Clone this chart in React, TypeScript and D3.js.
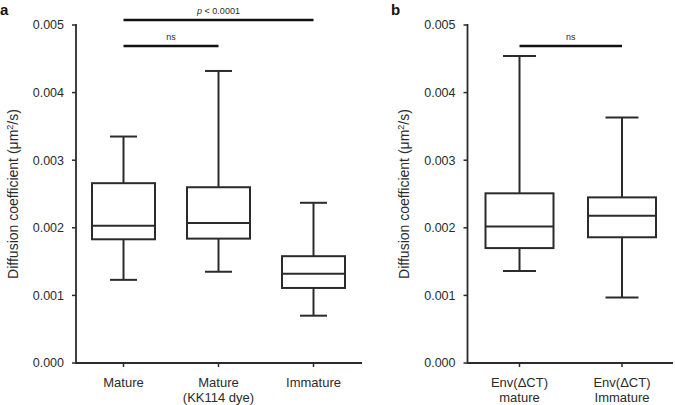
import React from "react";
import * as d3 from "d3";

const catsA = [["Mature"], ["Mature", "(KK114 dye)"], ["Immature"]];
const minA = [0.00123, 0.00135, 0.00070];
const q1A = [0.00183, 0.00184, 0.00111];
const medA = [0.00203, 0.00207, 0.00132];
const q3A = [0.00266, 0.00260, 0.00158];
const maxA = [0.00335, 0.00432, 0.00237];

const catsB = [["Env(\u0394CT)", "mature"], ["Env(\u0394CT)", "Immature"]];
const minB = [0.00136, 0.00097];
const q1B = [0.00170, 0.00186];
const medB = [0.00202, 0.00218];
const q3B = [0.00251, 0.00245];
const maxB = [0.00454, 0.00363];

const yTicks = [0, 0.001, 0.002, 0.003, 0.004, 0.005];
const yTickLabels = ["0.000", "0.001", "0.002", "0.003", "0.004", "0.005"];

const INK = "#2b2b2b";
const FONT = "Liberation Sans, Arial, Helvetica, sans-serif";

type PanelProps = {
  letter: string;
  letterX: number;
  axisX: number;
  axisEnd: number;
  titleX: number;
  range: [number, number];
  cats: string[][];
  mins: number[];
  q1s: number[];
  meds: number[];
  q3s: number[];
  maxs: number[];
  boxW: number;
  capW: number;
  sig: { a: number; b: number; y: number; label: string; italic?: boolean }[];
};

const y = d3.scaleLinear().domain([0, 0.005]).range([363, 25]);

function Panel(p: PanelProps) {
  const x = d3
    .scalePoint<number>()
    .domain(p.cats.map((_, i) => i))
    .range(p.range);
  const y0 = y(0);
  return (
    <g fontFamily={FONT} fill={INK}>
      <text x={p.letterX} y={15} fontSize={15} fontWeight="bold" fill="#111">
        {p.letter}
      </text>
      <text
        transform={`translate(${p.titleX},${(y(0) + y(0.005)) / 2}) rotate(-90)`}
        textAnchor="middle"
        fontSize={14}
      >
        Diffusion coefficient (μm
        <tspan dy={-5} fontSize={9}>2</tspan>
        <tspan dy={5}>/s)</tspan>
      </text>
      {/* axes */}
      <line x1={p.axisX} x2={p.axisX} y1={y(0.005) - 1} y2={y0 + 1} stroke={INK} strokeWidth={1.8} />
      <line x1={p.axisX} x2={p.axisEnd} y1={y0} y2={y0} stroke={INK} strokeWidth={1.8} />
      {yTicks.map((t, i) => (
        <g key={i}>
          <line x1={p.axisX - 4} x2={p.axisX} y1={y(t)} y2={y(t)} stroke={INK} strokeWidth={1.5} />
          <text x={p.axisX - 12} y={y(t)} dy="0.35em" textAnchor="end" fontSize={12.5}>
            {yTickLabels[i]}
          </text>
        </g>
      ))}
      {p.cats.map((c, i) => (
        <g key={i}>
          <line x1={x(i)} x2={x(i)} y1={y0} y2={y0 + 4} stroke={INK} strokeWidth={1.5} />
          {c.map((l, j) => (
            <text key={j} x={x(i)} y={386.5 + j * 15} textAnchor="middle" fontSize={13}>
              {l}
            </text>
          ))}
        </g>
      ))}
      {/* boxes */}
      {p.cats.map((_, i) => {
        const cx = x(i)!;
        return (
          <g key={i} stroke={INK} strokeWidth={2} fill="none">
            <line x1={cx} x2={cx} y1={y(p.maxs[i])} y2={y(p.q3s[i])} />
            <line x1={cx} x2={cx} y1={y(p.q1s[i])} y2={y(p.mins[i])} />
            <line x1={cx - p.capW / 2} x2={cx + p.capW / 2} y1={y(p.maxs[i])} y2={y(p.maxs[i])} />
            <line x1={cx - p.capW / 2} x2={cx + p.capW / 2} y1={y(p.mins[i])} y2={y(p.mins[i])} />
            <rect
              x={cx - p.boxW / 2}
              y={y(p.q3s[i])}
              width={p.boxW}
              height={y(p.q1s[i]) - y(p.q3s[i])}
              fill="white"
            />
            <line x1={cx - p.boxW / 2} x2={cx + p.boxW / 2} y1={y(p.meds[i])} y2={y(p.meds[i])} />
          </g>
        );
      })}
      {p.sig.map((s, i) => {
        const xa = x(s.a)!;
        const xb = x(s.b)!;
        return (
          <g key={i}>
            <line x1={xa} x2={xb} y1={s.y} y2={s.y} stroke="#111" strokeWidth={2.5} />
            <text x={(xa + xb) / 2} y={s.y - 6} textAnchor="middle" fontSize={9}>
              {s.italic ? (
                <>
                  <tspan fontStyle="italic">p</tspan>
                  {" < 0.0001"}
                </>
              ) : (
                s.label
              )}
            </text>
          </g>
        );
      })}
    </g>
  );
}

export default function App() {
  return (
    <svg width={675} height={405} style={{ position: "absolute", left: 0, top: 0, background: "white" }}>
      <rect width={675} height={405} fill="white" />
      <Panel
        letter="a"
        letterX={0}
        axisX={76}
        axisEnd={362}
        titleX={18}
        range={[123.5, 313.5]}
        cats={catsA}
        mins={minA}
        q1s={q1A}
        meds={medA}
        q3s={q3A}
        maxs={maxA}
        boxW={63}
        capW={27}
        sig={[
          { a: 0, b: 2, y: 20, label: "p < 0.0001", italic: true },
          { a: 0, b: 1, y: 46, label: "ns" },
        ]}
      />
      <Panel
        letter="b"
        letterX={391}
        axisX={467.5}
        axisEnd={673}
        titleX={409}
        range={[519.5, 622]}
        cats={catsB}
        mins={minB}
        q1s={q1B}
        meds={medB}
        q3s={q3B}
        maxs={maxB}
        boxW={68}
        capW={33}
        sig={[{ a: 0, b: 1, y: 46, label: "ns" }]}
      />
    </svg>
  );
}
